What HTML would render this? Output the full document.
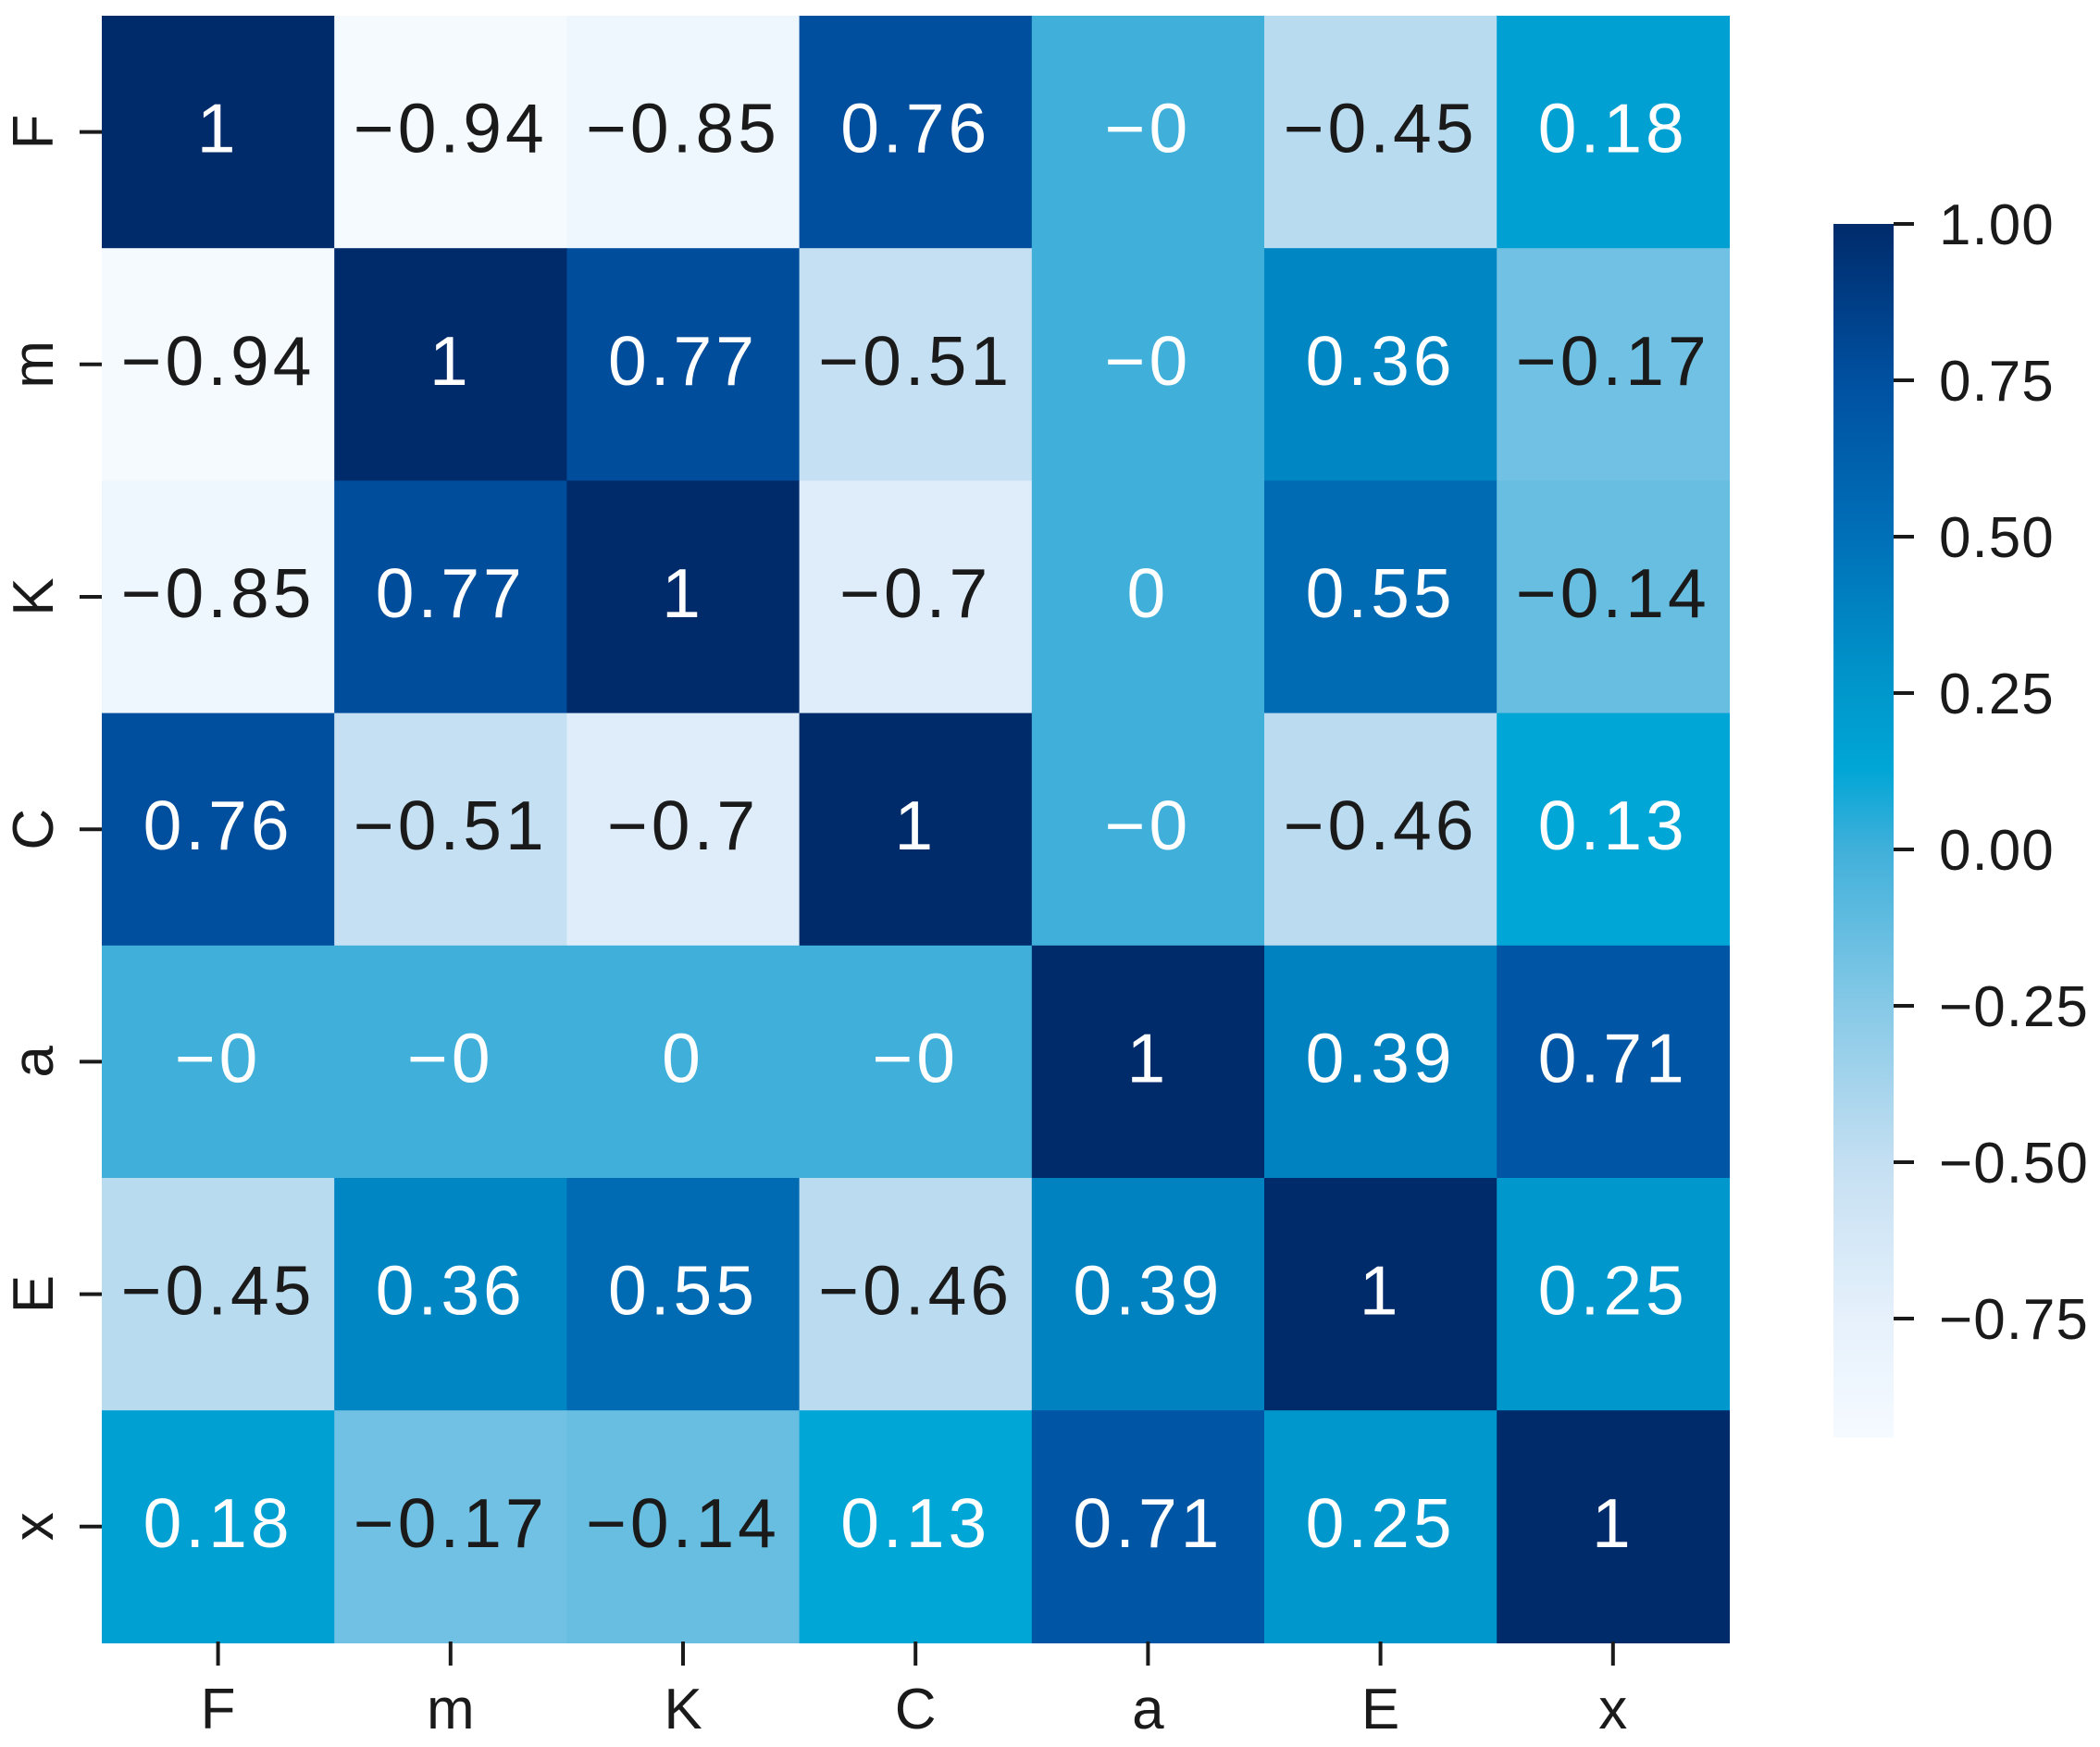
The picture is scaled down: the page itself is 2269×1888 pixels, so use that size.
<!DOCTYPE html>
<html><head><meta charset="utf-8"><style>
html,body{margin:0;padding:0;background:#fff;}
svg{display:block;}
text{font-family:"Liberation Sans","Noto Sans CJK SC",sans-serif;}
</style></head><body>
<svg id="chart" width="2269" height="1888" viewBox="0 0 2269 1888" xmlns="http://www.w3.org/2000/svg">
<defs><linearGradient id="cbgrad" x1="0" y1="1" x2="0" y2="0"></linearGradient></defs>
<g id="cells"></g>
<g id="axes"></g>
<g id="cbar"></g>
</svg>
<script>
const labels = ["F","m","K","C","a","E","x"];
const row0 = [1,-0.94,-0.85,0.76,-0.001,-0.45,0.18];
const row1 = [-0.94,1,0.77,-0.51,-0.001,0.36,-0.17];
const row2 = [-0.85,0.77,1,-0.7,0.001,0.55,-0.14];
const row3 = [0.76,-0.51,-0.7,1,-0.001,-0.46,0.13];
const row4 = [-0.001,-0.001,0.001,-0.001,1,0.39,0.71];
const row5 = [-0.45,0.36,0.55,-0.46,0.39,1,0.25];
const row6 = [0.18,-0.17,-0.14,0.13,0.71,0.25,1];
const cbTicks = [1.0,0.75,0.5,0.25,0.0,-0.25,-0.5,-0.75];
const cbTickLabels = ["1.00","0.75","0.50","0.25","0.00","\u22120.25","\u22120.50","\u22120.75"];
const vmin = -0.94, vmax = 1.0;
const matrix = [row0,row1,row2,row3,row4,row5,row6];

const stops = [[-0.94,[245,250,255]],[-0.75,[230,241,252]],[-0.5,[196,223,242]],[-0.25,[134,201,231]],[0.0,[64,176,218]],[0.13,[0,166,214]],[0.25,[0,152,204]],[0.5,[0,112,184]],[0.75,[0,80,160]],[1.0,[0,43,107]]];
function cmap(v){
  if(v<=stops[0][0]) return stops[0][1];
  for(let i=1;i<stops.length;i++){
    if(v<=stops[i][0]){const a=stops[i-1],b=stops[i];const t=(v-a[0])/(b[0]-a[0]);
      return a[1].map((c,k)=>Math.round(c+(b[1][k]-c)*t));}
  }
  return stops[stops.length-1][1];
}
const rgb=c=>`rgb(${c[0]},${c[1]},${c[2]})`;
const NS="http://www.w3.org/2000/svg";
function mk(tag,attrs,parent){const e=document.createElementNS(NS,tag);for(const k in attrs)e.setAttribute(k,attrs[k]);parent.appendChild(e);return e;}
const X0=110,Y0=17,CW=251.2,CH=251.2;
const xPos=i=>X0+i*CW, yPos=j=>Y0+j*CH;
function fmt(v){
  const r=Math.round(v*100)/100;
  let s = (Math.abs(r)===0)?"0":String(Math.abs(r));
  return ((v<0)?"\u2212":"")+s;
}
const cells=document.getElementById('cells');
matrix.forEach((row,j)=>row.forEach((v,i)=>{
  const r=mk('rect',{x:xPos(i),y:yPos(j),width:CW+0.6,height:CH+0.6,fill:rgb(cmap(v))},cells);
  
  
  const t=mk('text',{x:xPos(i)+CW/2,y:yPos(j)+CH/2+22,'text-anchor':'middle','font-size':75,'letter-spacing':4,fill:(v>-0.1?'#ffffff':'#1a1a1a')},cells);
  t.textContent=fmt(v);
  
  
}));
const axes=document.getElementById('axes');
labels.forEach((l,i)=>{
  const cx=xPos(i)+CW/2;
  const tk=mk('line',{x1:cx,y1:1774,x2:cx,y2:1800,stroke:'#1a1a1a','stroke-width':4},axes);
  
  
  const t=mk('text',{x:cx,y:1868,'text-anchor':'middle','font-size':62,fill:'#1a1a1a'},axes);
  t.textContent=l;
  
  
  const cy=yPos(i)+CH/2;
  const tk2=mk('line',{x1:86,y1:cy,x2:110,y2:cy,stroke:'#1a1a1a','stroke-width':4},axes);
  
  
  const t2=mk('text',{x:57,y:cy,'text-anchor':'middle','font-size':62,fill:'#1a1a1a',transform:`rotate(-90 57 ${cy})`},axes);
  t2.textContent=l;
  
  
});
const CBX=1981,CBW=65,CBTOP=242,PPU=676;
const cbY=v=>CBTOP+(vmax-v)*PPU;
const grad=document.getElementById('cbgrad');
stops.forEach(s=>{mk('stop',{offset:((s[0]-vmin)/(vmax-vmin)).toFixed(4),'stop-color':rgb(s[1])},grad);});
const cb=document.getElementById('cbar');
const bar=mk('rect',{x:CBX,y:CBTOP,width:CBW,height:cbY(vmin)-CBTOP,fill:'url(#cbgrad)'},cb);


cbTicks.forEach((v,k)=>{
  const y=cbY(v);
  const tk=mk('line',{x1:CBX+CBW,y1:y,x2:CBX+CBW+22,y2:y,stroke:'#1a1a1a','stroke-width':4},cb);
  
  
  const t=mk('text',{x:2095,y:y+22,'font-size':62,'letter-spacing':1,fill:'#1a1a1a'},cb);
  t.textContent=cbTickLabels[k];
  
  
});
</script>
</body></html>
